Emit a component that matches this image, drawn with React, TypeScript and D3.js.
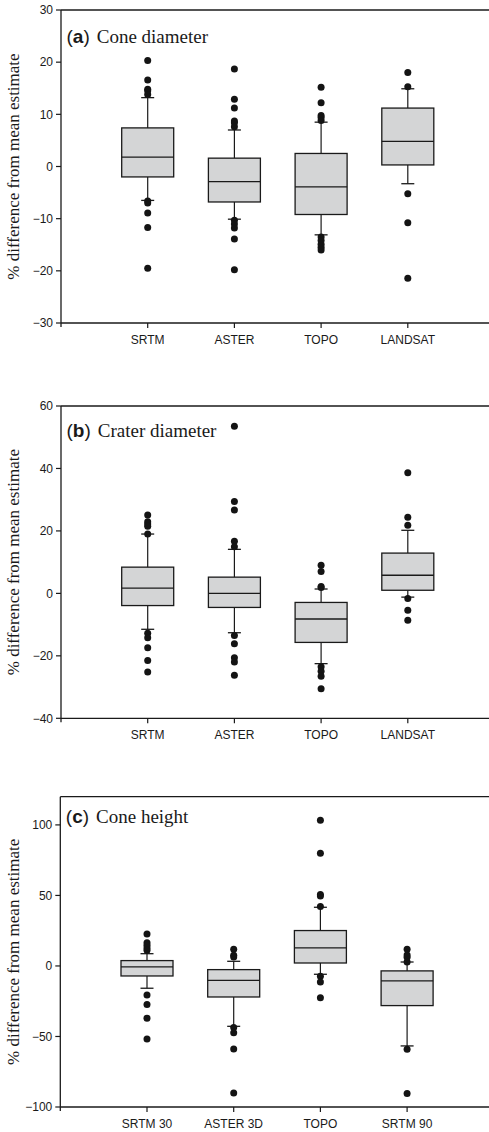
import { useMemo } from "react";
import * as d3 from "d3";

// panel (a) cone diameter
const catsA = ["SRTM", "ASTER", "TOPO", "LANDSAT"];
const q1A = [-2.0, -6.8, -9.2, 0.3];
const medA = [1.8, -2.9, -3.9, 4.8];
const q3A = [7.4, 1.6, 2.5, 11.2];
const loA = [-6.5, -10.1, -13.1, -3.3];
const hiA = [13.2, 7.0, 8.5, 14.9];
const outA = [
  [20.3, 16.6, 14.8, 14.5, 13.8, -6.6, -7.0, -8.9, -11.7, -19.5],
  [18.7, 12.9, 11.2, 8.7, 8.4, 7.6, -10.3, -11.0, -11.8, -13.9, -19.8],
  [15.2, 12.2, 9.8, 9.4, 8.8, -13.5, -14.2, -14.9, -15.5, -16.0],
  [18.0, 15.3, -5.2, -10.8, -21.4],
];
const ticksA = [30, 20, 10, 0, -10, -20, -30];

// panel (b) crater diameter
const catsB = ["SRTM", "ASTER", "TOPO", "LANDSAT"];
const q1B = [-3.9, -4.5, -15.7, 1.0];
const medB = [1.7, 0, -8.2, 5.8];
const q3B = [8.4, 5.2, -2.9, 12.9];
const loB = [-11.5, -12.6, -22.5, -1.2];
const hiB = [19.0, 14.1, 1.4, 20.2];
const outB = [
  [25.1, 22.9, 22.2, 21.5, 19.0, -12.8, -14.2, -17.4, -21.5, -25.2],
  [53.5, 29.4, 26.7, 16.7, 14.9, -13.5, -16.1, -20.6, -22.0, -26.2],
  [9.0, 7.0, 2.2, 1.9, -23.5, -24.9, -26.5, -30.5],
  [38.6, 24.4, 21.8, -1.6, -5.4, -8.6],
];
const ticksB = [60, 40, 20, 0, -20, -40];

// panel (c) cone height
const catsC = ["SRTM 30", "ASTER 3D", "TOPO", "SRTM 90"];
const q1C = [-7.1, -22.0, 2.1, -28.1];
const medC = [-0.7, -10.2, 12.8, -10.6];
const q3C = [3.8, -2.6, 25.1, -3.5];
const loC = [-15.8, -42.8, -5.9, -56.7];
const hiC = [8.7, 3.3, 41.6, 2.8];
const outC = [
  [22.7, 16.5, 14.7, 12.8, 11.1, -20.6, -27.4, -37.1, -51.8],
  [11.8, 7.6, 6.4, -43.7, -47.3, -58.9, -90.1],
  [103.3, 79.9, 50.6, 49.6, 42.1, -7.3, -11.3, -22.5],
  [11.8, 7.8, 6.1, 2.8, -59.1, -90.5],
];
const ticksC = [100, 50, 0, -50, -100];

const W = 489;
const H = 1132;
const INK = "#1a1a1a";
const SANS = "'Liberation Sans', Arial, sans-serif";
const SERIF = "'Liberation Serif', 'Times New Roman', serif";

function Panel({ p }) {
  const x = d3
    .scalePoint()
    .domain(p.cats)
    .range([p.left, p.left + 86.7 * 5])
    .padding(1);
  const y = d3.scaleLinear().domain(p.domain).range([p.bottom, p.top]);
  const fmt = d3.format("d");
  const bw = 26;
  const cap = 6.5;

  return (
    <g>
      {/* frame: left axis, bottom axis, top line */}
      <line x1={p.left} x2={W} y1={p.top} y2={p.top} stroke={INK} strokeWidth={1.3} />
      <line x1={p.left} x2={W} y1={p.bottom} y2={p.bottom} stroke={INK} strokeWidth={1.3} />
      <line x1={p.left} x2={p.left} y1={p.top} y2={p.bottom + 4} stroke={INK} strokeWidth={1.3} />

      {p.ticks.map((t) => (
        <g key={t}>
          <line x1={p.left - 5} x2={p.left} y1={y(t)} y2={y(t)} stroke={INK} strokeWidth={1.2} />
          <text
            x={p.left - 8}
            y={y(t)}
            dy="0.35em"
            textAnchor="end"
            fontFamily={SANS}
            fontSize={12}
            fill={INK}
          >
            {fmt(t)}
          </text>
        </g>
      ))}

      {p.cats.map((c) => (
        <g key={c}>
          <line x1={x(c)} x2={x(c)} y1={p.bottom} y2={p.bottom + 5} stroke={INK} strokeWidth={1.2} />
          <text
            x={x(c)}
            y={p.bottom + 21}
            textAnchor="middle"
            fontFamily={SANS}
            fontSize={12}
            fill={INK}
          >
            {c}
          </text>
        </g>
      ))}

      {p.cats.map((c, i) => {
        const cx = x(c);
        return (
          <g key={"box" + c}>
            <line x1={cx} x2={cx} y1={y(p.hi[i])} y2={y(p.q3[i])} stroke={INK} strokeWidth={1.2} />
            <line x1={cx} x2={cx} y1={y(p.q1[i])} y2={y(p.lo[i])} stroke={INK} strokeWidth={1.2} />
            <line x1={cx - cap} x2={cx + cap} y1={y(p.hi[i])} y2={y(p.hi[i])} stroke={INK} strokeWidth={1.3} />
            <line x1={cx - cap} x2={cx + cap} y1={y(p.lo[i])} y2={y(p.lo[i])} stroke={INK} strokeWidth={1.3} />
            <rect
              x={cx - bw}
              y={y(p.q3[i])}
              width={bw * 2}
              height={y(p.q1[i]) - y(p.q3[i])}
              fill="#d4d5d6"
              stroke={INK}
              strokeWidth={1.3}
            />
            <line x1={cx - bw} x2={cx + bw} y1={y(p.med[i])} y2={y(p.med[i])} stroke={INK} strokeWidth={1.3} />
            {p.out[i].map((v, j) => (
              <circle key={j} cx={cx} cy={y(v)} r={3.5} fill="#141414" />
            ))}
          </g>
        );
      })}

      <text x={p.left + 5.5} y={p.titleY} fontSize={19} fill={INK}>
        <tspan fontFamily={SANS}>(</tspan>
        <tspan fontFamily={SANS} fontWeight="bold">{p.letter}</tspan>
        <tspan fontFamily={SANS}>)</tspan>
        <tspan fontFamily={SERIF} dx={7}>{p.title}</tspan>
      </text>

      <text
        transform={`translate(18.5,${(p.top + p.bottom) / 2}) rotate(-90)`}
        textAnchor="middle"
        fontFamily={SERIF}
        fontSize={17}
        fill={INK}
      >
        % difference from mean estimate
      </text>
    </g>
  );
}

export default function App() {
  const panels = useMemo(
    () => [
      {
        letter: "a", title: "Cone diameter", cats: catsA, q1: q1A, med: medA, q3: q3A,
        lo: loA, hi: hiA, out: outA, ticks: ticksA, domain: [-30, 30],
        top: 10, bottom: 323, left: 61, titleY: 43,
      },
      {
        letter: "b", title: "Crater diameter", cats: catsB, q1: q1B, med: medB, q3: q3B,
        lo: loB, hi: hiB, out: outB, ticks: ticksB, domain: [-40, 60],
        top: 406, bottom: 718.3, left: 61, titleY: 437,
      },
      {
        letter: "c", title: "Cone height", cats: catsC, q1: q1C, med: medC, q3: q3C,
        lo: loC, hi: hiC, out: outC, ticks: ticksC, domain: [-100, 120],
        top: 796.7, bottom: 1107, left: 60.3, titleY: 823,
      },
    ],
    []
  );

  return (
    <svg
      width={W}
      height={H}
      style={{ position: "absolute", left: 0, top: 0, background: "#fff" }}
    >
      {panels.map((p) => (
        <Panel key={p.letter} p={p} />
      ))}
    </svg>
  );
}
